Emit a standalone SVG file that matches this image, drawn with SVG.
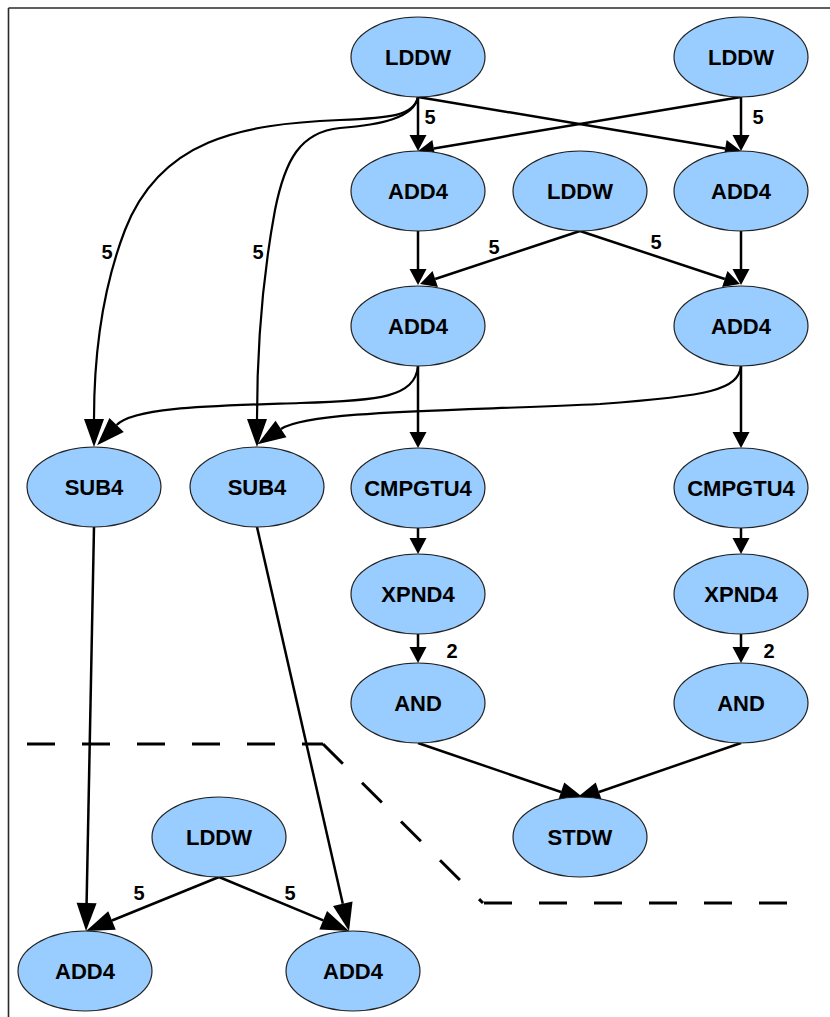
<svg xmlns="http://www.w3.org/2000/svg" width="830" height="1017" viewBox="0 0 830 1017">
  <style>
    .node ellipse { fill: #99ccff; stroke: #222; stroke-width: 1.2; }
    .node text { font-family: "Liberation Sans", Arial, sans-serif; font-weight: bold; font-size: 22px; text-anchor: middle; fill: #000; }
    .edge { fill: none; stroke: #000; stroke-width: 2.5; }
    .curve { fill: none; stroke: #000; stroke-width: 2.2; }
    .lbl { font-family: "Liberation Sans", Arial, sans-serif; font-weight: bold; font-size: 20px; text-anchor: middle; fill: #000; }
    .dash { fill: none; stroke: #000; stroke-width: 3; stroke-dasharray: 28 27; }
    .frame { fill: none; stroke: #2a2a2a; stroke-width: 1.6; }
  </style>
  <defs>
    <marker id="ah" markerUnits="userSpaceOnUse" markerWidth="16" markerHeight="17" refX="0" refY="8.5" orient="auto" overflow="visible">
      <path d="M0,0 L16,8.5 L0,17 z" fill="#000"/>
    </marker>
    <marker id="ahl" markerUnits="userSpaceOnUse" markerWidth="28" markerHeight="20" refX="0" refY="10" orient="auto" overflow="visible">
      <path d="M0,0 L28,10 L0,20 z" fill="#000"/>
    </marker>
  </defs>

  <!-- frame -->
  <line class="frame" x1="8.5" y1="8" x2="830" y2="8"/>
  <line class="frame" x1="8.5" y1="8" x2="8.5" y2="1017"/>

  <!-- partition boundary -->
  <g id="partition">
    <line class="dash" x1="27" y1="744" x2="323" y2="744"/>
    <line class="dash" x1="323" y1="744" x2="483" y2="903"/>
    <line class="dash" x1="484" y1="903" x2="790" y2="903"/>
  </g>

  <g id="connectors">
    <!-- top loads into the first adders -->
    <line class="edge" x1="418" y1="97" x2="418" y2="135" marker-end="url(#ah)"/>
    <line class="edge" x1="741" y1="97" x2="741" y2="135" marker-end="url(#ah)"/>
    <line class="edge" x1="418" y1="97" x2="725.2" y2="148.4" marker-end="url(#ah)"/>
    <line class="edge" x1="741" y1="97" x2="433.8" y2="148.4" marker-end="url(#ah)"/>
    <!-- second adders -->
    <line class="edge" x1="418" y1="231" x2="418" y2="269" marker-end="url(#ah)"/>
    <line class="edge" x1="741" y1="231" x2="741" y2="269" marker-end="url(#ah)"/>
    <line class="edge" x1="580" y1="231" x2="435.2" y2="279" marker-end="url(#ah)"/>
    <line class="edge" x1="580" y1="231" x2="724.8" y2="279" marker-end="url(#ah)"/>
    <!-- long curves to the subtractors -->
    <path class="curve" d="M418,97 C414,116 390,118 340,120 C240,124 160,140 125,230 C100,295 94,360 94,419" marker-end="url(#ahl)"/>
    <path class="curve" d="M418,97 C414,118 380,125 340,128 C300,132 285,160 275,210 C262,280 257,350 257,419" marker-end="url(#ahl)"/>
    <path class="curve" d="M418,366 C415,397 380,401 300,403 C210,406 134,407 116.6,425" marker-end="url(#ahl)"/>
    <path class="curve" d="M741,366 C738,390 710,396 600,404 C460,411 310,410 281,429" marker-end="url(#ahl)"/>
    <!-- compare / expand / and chains -->
    <line class="edge" x1="418" y1="366" x2="418" y2="432" marker-end="url(#ah)"/>
    <line class="edge" x1="741" y1="366" x2="741" y2="432" marker-end="url(#ah)"/>
    <line class="edge" x1="418" y1="528" x2="418" y2="538" marker-end="url(#ah)"/>
    <line class="edge" x1="741" y1="528" x2="741" y2="538" marker-end="url(#ah)"/>
    <line class="edge" x1="418" y1="634" x2="418" y2="647" marker-end="url(#ah)"/>
    <line class="edge" x1="741" y1="634" x2="741" y2="647" marker-end="url(#ah)"/>
    <!-- into the store -->
    <line class="edge" x1="418" y1="743" x2="561" y2="792" marker-end="url(#ahl)"/>
    <line class="edge" x1="741" y1="743" x2="599" y2="792" marker-end="url(#ahl)"/>
    <!-- lower partition -->
    <line class="edge" x1="94" y1="527" x2="86.6" y2="903" marker-end="url(#ahl)"/>
    <line class="edge" x1="257" y1="527" x2="342.8" y2="903.7" marker-end="url(#ahl)"/>
    <line class="edge" x1="219" y1="877" x2="112" y2="920.5" marker-end="url(#ahl)"/>
    <line class="edge" x1="219" y1="877" x2="323.2" y2="920.3" marker-end="url(#ahl)"/>
  </g>

  <g id="edge-labels">
    <text class="lbl" x="430" y="124">5</text>
    <text class="lbl" x="758" y="124">5</text>
    <text class="lbl" x="494" y="254">5</text>
    <text class="lbl" x="656" y="249">5</text>
    <text class="lbl" x="107" y="259">5</text>
    <text class="lbl" x="258" y="259">5</text>
    <text class="lbl" x="452" y="658">2</text>
    <text class="lbl" x="769" y="658">2</text>
    <text class="lbl" x="139" y="900">5</text>
    <text class="lbl" x="290" y="900">5</text>
  </g>

  <g id="n-lddw-a" class="node"><ellipse cx="418" cy="57" rx="67" ry="40"/><text x="418" y="65">LDDW</text></g>
  <g id="n-lddw-b" class="node"><ellipse cx="741" cy="57" rx="67" ry="40"/><text x="741" y="65">LDDW</text></g>
  <g id="n-add4-a" class="node"><ellipse cx="418" cy="191" rx="67" ry="40"/><text x="418" y="199">ADD4</text></g>
  <g id="n-lddw-c" class="node"><ellipse cx="580" cy="191" rx="67" ry="40"/><text x="580" y="199">LDDW</text></g>
  <g id="n-add4-b" class="node"><ellipse cx="741" cy="191" rx="67" ry="40"/><text x="741" y="199">ADD4</text></g>
  <g id="n-add4-c" class="node"><ellipse cx="418" cy="326" rx="67" ry="40"/><text x="418" y="334">ADD4</text></g>
  <g id="n-add4-d" class="node"><ellipse cx="741" cy="326" rx="67" ry="40"/><text x="741" y="334">ADD4</text></g>
  <g id="n-sub4-a" class="node"><ellipse cx="94" cy="487" rx="67" ry="40"/><text x="94" y="495">SUB4</text></g>
  <g id="n-sub4-b" class="node"><ellipse cx="257" cy="487" rx="67" ry="40"/><text x="257" y="495">SUB4</text></g>
  <g id="n-cmp-a" class="node"><ellipse cx="418" cy="488" rx="67" ry="40"/><text x="418" y="496">CMPGTU4</text></g>
  <g id="n-cmp-b" class="node"><ellipse cx="741" cy="488" rx="67" ry="40"/><text x="741" y="496">CMPGTU4</text></g>
  <g id="n-xpnd-a" class="node"><ellipse cx="418" cy="594" rx="67" ry="40"/><text x="418" y="602">XPND4</text></g>
  <g id="n-xpnd-b" class="node"><ellipse cx="741" cy="594" rx="67" ry="40"/><text x="741" y="602">XPND4</text></g>
  <g id="n-and-a" class="node"><ellipse cx="418" cy="703" rx="67" ry="40"/><text x="418" y="711">AND</text></g>
  <g id="n-and-b" class="node"><ellipse cx="741" cy="703" rx="67" ry="40"/><text x="741" y="711">AND</text></g>
  <g id="n-stdw" class="node"><ellipse cx="580" cy="837" rx="67" ry="40"/><text x="580" y="845">STDW</text></g>
  <g id="n-lddw-d" class="node"><ellipse cx="219" cy="837" rx="67" ry="40"/><text x="219" y="845">LDDW</text></g>
  <g id="n-add4-e" class="node"><ellipse cx="85" cy="971" rx="67" ry="40"/><text x="85" y="979">ADD4</text></g>
  <g id="n-add4-f" class="node"><ellipse cx="353" cy="971" rx="67" ry="40"/><text x="353" y="979">ADD4</text></g>
</svg>
